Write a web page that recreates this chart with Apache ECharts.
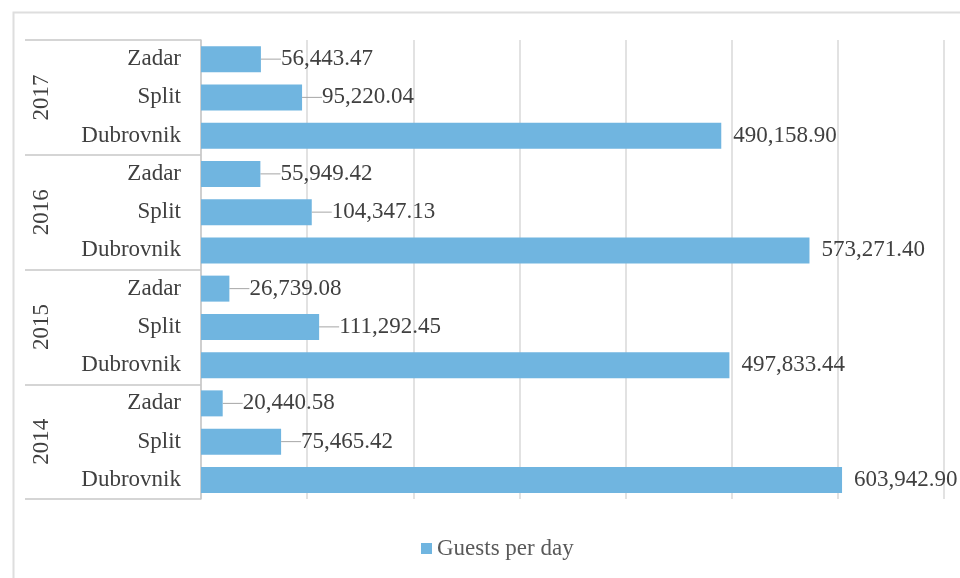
<!DOCTYPE html>
<html>
<head>
<meta charset="utf-8">
<script src="https://cdn.jsdelivr.net/npm/echarts@6/dist/echarts.min.js"></script>
<style>html,body{margin:0;padding:0;background:#fff}#c{width:960px;height:578px}</style>
</head>
<body>
<div id="c"></div>
<script>
// Data (bottom to top, as drawn by a category y-axis)
const years = ['2014', '2015', '2016', '2017'];
const cities = ['Dubrovnik', 'Split', 'Zadar'];
const v2014 = [603942.90, 75465.42, 20440.58];
const v2015 = [497833.44, 111292.45, 26739.08];
const v2016 = [573271.40, 104347.13, 55949.42];
const v2017 = [490158.90, 95220.04, 56443.47];
const seriesName = 'Guests per day';

const byYear = [v2014, v2015, v2016, v2017];
const cats = [];
const vals = [];
years.forEach((y, i) => {
  cities.forEach((c, j) => {
    cats.push(c);
    vals.push(byYear[i][j]);
  });
});

const fmt = new Intl.NumberFormat('en-US', {minimumFractionDigits: 2, maximumFractionDigits: 2});
const serif = '"Liberation Serif", "Times New Roman", serif';

const barData = vals.map((v, i) => ({
  value: v,
  labelLine: {show: cats[i] !== 'Dubrovnik'}
}));

const chart = echarts.init(document.getElementById('c'));
chart.setOption({
  animation: false,
  graphic: [{
    type: 'rect', left: 11, top: 10,
    shape: {width: 1000, height: 620},
    style: {fill: 'none', stroke: '#dedede', lineWidth: 2},
    silent: true, z: -10
  }],
  grid: {left: 201, right: 16, top: 40, bottom: 79},
  legend: {
    bottom: 13, left: 416,
    icon: 'rect', itemWidth: 11, itemHeight: 11, itemGap: 6,
    textStyle: {fontFamily: serif, fontSize: 23, color: '#595959'},
    data: [seriesName]
  },
  xAxis: {
    type: 'value', min: 0, max: 700000, interval: 100000,
    axisLabel: {show: false}, axisLine: {show: false}, axisTick: {show: false},
    splitLine: {show: true, lineStyle: {color: '#d9d9d9', width: 1.5}}
  },
  yAxis: [{
    type: 'category', data: cats, position: 'left',
    axisLine: {show: true, lineStyle: {color: '#c8c8c8', width: 1.5}},
    axisTick: {show: false},
    axisLabel: {fontFamily: serif, fontSize: 23, color: '#404040', margin: 20}
  }, {
    type: 'category', data: years, position: 'left', offset: 0,
    axisLine: {show: false},
    axisTick: {show: true, length: 176, lineStyle: {color: '#c8c8c8', width: 1.5}},
    axisLabel: {fontFamily: serif, fontSize: 23, color: '#404040', rotate: 90, margin: 148}
  }],
  series: [{
    name: seriesName, type: 'bar', yAxisIndex: 0,
    data: barData, barWidth: 26,
    itemStyle: {color: '#70b5e0'},
    label: {
      show: true, position: 'right', distance: 12,
      fontFamily: serif, fontSize: 23, color: '#404040',
      formatter: p => fmt.format(p.value)
    },
    labelLayout: p => (cats[p.dataIndex] === 'Dubrovnik' ? {dx: 0} : {dx: 8}),
    labelLine: {show: true, lineStyle: {color: '#a6a6a6', width: 1}}
  }]
});
</script>
</body>
</html>
